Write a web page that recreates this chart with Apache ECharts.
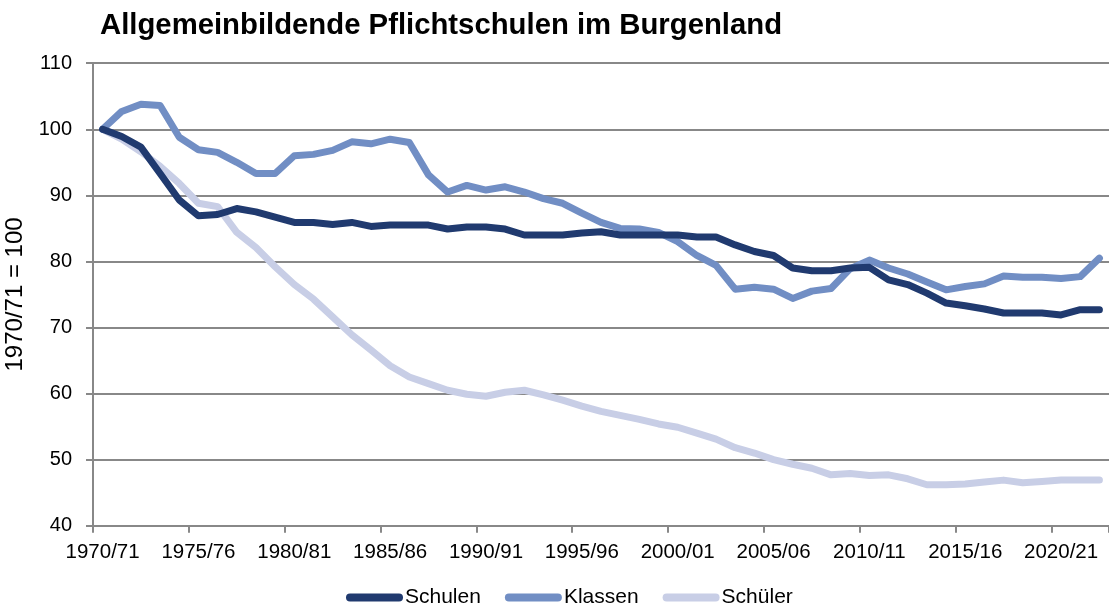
<!DOCTYPE html>
<html>
<head>
<meta charset="utf-8">
<script src="https://cdn.jsdelivr.net/npm/echarts@6/dist/echarts.min.js"></script>
<style>
html,body{margin:0;padding:0;background:#fff;}
#chart{width:1109px;height:612px;}
</style>
</head>
<body>
<div id="chart"></div>
<script>
const categories = [
 '1970/71','1971/72','1972/73','1973/74','1974/75','1975/76','1976/77','1977/78','1978/79','1979/80',
 '1980/81','1981/82','1982/83','1983/84','1984/85','1985/86','1986/87','1987/88','1988/89','1989/90',
 '1990/91','1991/92','1992/93','1993/94','1994/95','1995/96','1996/97','1997/98','1998/99','1999/00',
 '2000/01','2001/02','2002/03','2003/04','2004/05','2005/06','2006/07','2007/08','2008/09','2009/10',
 '2010/11','2011/12','2012/13','2013/14','2014/15','2015/16','2016/17','2017/18','2018/19','2019/20',
 '2020/21','2021/22','2022/23'
];
const schulen = [
 100,98.9,97.3,93.3,89.3,86.9,87.1,88.0,87.5,86.7,
 85.9,85.9,85.6,85.9,85.3,85.5,85.5,85.5,84.9,85.2,
 85.2,84.9,84.0,84.0,84.0,84.3,84.5,84.0,84.0,84.0,
 84.0,83.7,83.7,82.5,81.5,80.9,79.0,78.6,78.6,79.0,
 79.1,77.2,76.5,75.2,73.7,73.3,72.8,72.2,72.2,72.2,
 71.9,72.7,72.7
];
const klassen = [
 100,102.7,103.8,103.6,98.8,96.9,96.5,95.0,93.3,93.3,
 96.0,96.2,96.8,98.1,97.8,98.5,98.0,93.1,90.5,91.5,
 90.8,91.3,90.5,89.5,88.8,87.3,85.9,85.0,84.9,84.4,
 83.0,80.9,79.4,75.8,76.1,75.8,74.4,75.5,75.9,78.9,
 80.2,79.0,78.1,76.9,75.7,76.2,76.6,77.8,77.6,77.6,
 77.4,77.7,80.5
];
const schueler = [
 100,98.5,96.6,94.4,91.8,88.8,88.3,84.4,82.1,79.2,
 76.5,74.3,71.6,68.9,66.6,64.2,62.5,61.5,60.5,59.9,
 59.6,60.2,60.5,59.8,59.0,58.1,57.3,56.7,56.1,55.4,
 54.9,54.0,53.1,51.8,51.0,50.0,49.3,48.7,47.7,47.9,
 47.6,47.7,47.1,46.2,46.2,46.3,46.6,46.9,46.5,46.7,
 46.9,46.9,46.9
];
const seriesNames = ['Schulen','Klassen','Schüler'];
const colors = ['#203a6f','#718ec4','#c8cee6'];

const font = "'Liberation Sans', Arial, sans-serif";
const chart = echarts.init(document.getElementById('chart'), null, {renderer:'canvas'});
const capsule = 'path://M4,0 L53,0 A4,4 0 0 1 53,8 L4,8 A4,4 0 0 1 4,0 Z';
chart.setOption({
  animation:false,
  backgroundColor:'#ffffff',
  color: colors,
  title:{
    text:'Allgemeinbildende Pflichtschulen im Burgenland',
    left:95, top:6,
    textStyle:{fontFamily:font,fontSize:29.3,fontWeight:'bold',color:'#000'}
  },
  legend:{
    data:seriesNames,
    left:346, top:587, padding:0,
    icon:capsule,
    itemWidth:57, itemHeight:8, itemGap:24,
    textStyle:{fontFamily:font,fontSize:21,color:'#000',padding:[0,0,0,-3]}
  },
  grid:{left:93,right:0,top:63.2,bottom:86.3,containLabel:false,outerBoundsMode:'none'},
  xAxis:{
    type:'category',
    data:categories,
    boundaryGap:true,
    axisLine:{lineStyle:{color:'#888',width:2}},
    axisTick:{show:true,interval:4,length:7,lineStyle:{color:'#888',width:2}},
    axisLabel:{interval:4,margin:16,fontFamily:font,fontSize:20.5,color:'#000'},
    splitLine:{show:false}
  },
  yAxis:{
    type:'value',
    min:40,max:110,interval:10,
    name:'1970/71 = 100',
    nameLocation:'middle',
    nameRotate:90,
    nameGap:65,
    nameTextStyle:{fontFamily:font,fontSize:24,color:'#000'},
    axisLine:{show:true,lineStyle:{color:'#888',width:2}},
    axisTick:{show:true,length:7,lineStyle:{color:'#888',width:2}},
    axisLabel:{margin:21,fontFamily:font,fontSize:20,color:'#000'},
    splitLine:{show:true,lineStyle:{color:'#888',width:2}}
  },
  series:[
    {name:seriesNames[0],type:'line',data:schulen,symbol:'none',lineStyle:{width:7,color:colors[0],cap:'round',join:'round'},z:4},
    {name:seriesNames[1],type:'line',data:klassen,symbol:'none',lineStyle:{width:7,color:colors[1],cap:'round',join:'round'},z:3},
    {name:seriesNames[2],type:'line',data:schueler,symbol:'none',lineStyle:{width:7,color:colors[2],cap:'round',join:'round'},z:2}
  ]
});
</script>
</body>
</html>
